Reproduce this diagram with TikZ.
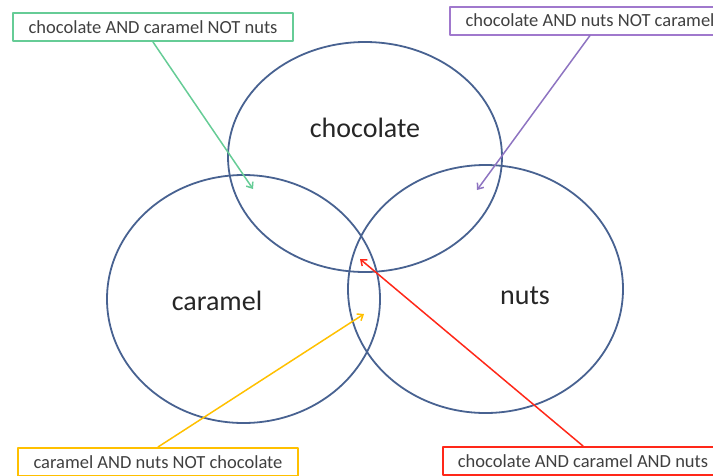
\documentclass[tikz,border=0pt]{standalone}
\usepackage{fontspec}
\setmainfont{Carlito}
\usetikzlibrary{arrows.meta}
\definecolor{ring}{RGB}{72,98,145}
\definecolor{boxgreen}{RGB}{102,204,150}
\definecolor{boxpurple}{RGB}{160,120,205}
\definecolor{boxyellow}{RGB}{255,192,0}
\definecolor{boxred}{RGB}{255,40,25}
\definecolor{boxtext}{RGB}{64,64,64}
\begin{document}
\begin{tikzpicture}[line cap=round,line join=round,x=1pt,y=-1pt,
    ptr/.style={line width=1.5pt, -{Straight Barb[length=5pt,width=8pt]}},
    tag/.style={draw, line width=2pt, fill=white, minimum width=280pt, minimum height=28pt, inner sep=0pt, font=\fontsize{18.5}{21}\selectfont, text=boxtext},
    set/.style={font=\fontsize{28}{32}\selectfont, text=black!85}]
                        \useasboundingbox (0,0) rectangle (713,475);

                        \draw [ring, line width=1.8pt] (365,157) ellipse [x radius=137, y radius=115];
                        \draw [ring, line width=1.8pt] (243.5,299) ellipse [x radius=136.5, y radius=124];
                        \draw [ring, line width=1.8pt] (485.5,289) ellipse [x radius=137.5, y radius=124];

                        \node[set] (choc) at (365,128) {chocolate};
                        \node[set] (cara) at (217,301) {caramel};
                        \node[set] (nuts) at (525,296) {nuts};

                        \node[tag, draw=boxgreen] (cc) at (153,27) {chocolate AND caramel NOT nuts};
                        \node[tag, draw=boxpurple] (cn) at (590,20.5) {chocolate AND nuts NOT caramel};
                        \node[tag, draw=boxyellow] (cnn) at (158,462) {caramel AND nuts NOT chocolate};
                        \node[tag, draw=boxred] (all) at (583,461) {chocolate AND caramel AND nuts};

                        \coordinate (p1) at (253,189);
                        \coordinate (p2) at (477,190);
                        \coordinate (p3) at (364,314);
                        \coordinate (p4) at (360,259);

                        \draw [ptr, boxgreen] (cc.south) -- (p1);
                        \draw [ptr, boxpurple!80!ring] (cn.south) -- (p2);
                        \draw [ptr, boxyellow] (cnn.north) -- (p3);
                        \draw [ptr, boxred] (all.north) -- (p4);
                    \end{tikzpicture}
\end{document}
